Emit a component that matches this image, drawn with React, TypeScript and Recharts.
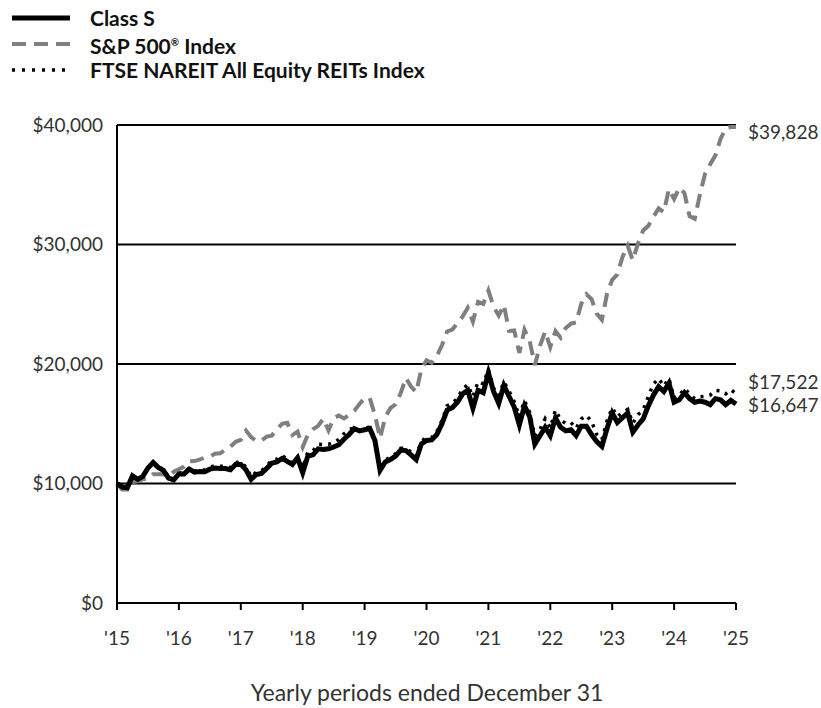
import React from "react";
import {
  CartesianGrid,
  Line,
  LineChart,
  XAxis,
  YAxis
} from "recharts";

// month-end values, Dec '15 .. Dec '25
const classS = [
  10000,
  9700, 9650, 10650, 10350, 10600, 11300, 11750, 11350, 11100, 10450, 10300, 10800,
  10800, 11200, 10950, 11000, 10980, 11200, 11300, 11250, 11250, 11150, 11600, 11600,
  11150, 10350, 10750, 10850, 11250, 11700, 11800, 12100, 11850, 11600, 12150, 10900,
  12300, 12400, 12900, 12850, 12900, 13050, 13250, 13700, 14100, 14600, 14400, 14500,
  14600, 13600, 11100, 11800, 12000, 12300, 12800, 12750, 12400, 12000, 13300, 13600,
  13650, 14100, 15000, 16150, 16350, 16800, 17500, 17800, 16300, 17800, 17600, 19250,
  17700, 16700, 18200, 17300, 16400, 14900, 16500, 15600, 13300, 14000, 14700, 14000,
  15500, 14700, 14400, 14500, 14000, 14800, 14800, 14100, 13500, 13100, 14600, 15900,
  15100, 15500, 15900, 14300, 14900, 15400, 16500, 17400, 18100, 17700, 18400, 16800,
  17000, 17600, 17100, 16800, 16900, 16800, 16600, 17100, 17000, 16600, 16950, 16647
];

const sp500 = [
  10000,
  9504, 9492, 10135, 10175, 10358, 10385, 10768, 10783, 10785, 10589, 10981, 11198,
  11411, 11864, 11878, 12000, 12169, 12245, 12497, 12536, 12794, 13092, 13494, 13644,
  14426, 13894, 13541, 13592, 13920, 14006, 14527, 15001, 15087, 14055, 14342, 13047,
  14092, 14544, 14826, 15426, 14447, 15465, 15688, 15440, 15729, 16070, 16653, 17156,
  17149, 15738, 13794, 15563, 16304, 16628, 17566, 18829, 18113, 17632, 19563, 20314,
  20109, 20664, 21569, 22721, 22880, 23413, 23970, 24699, 23550, 25201, 25027, 26148,
  24796, 24055, 24947, 22772, 22813, 20931, 22861, 21928, 19908, 21521, 22724, 21415,
  22760, 22205, 23020, 23379, 23480, 25032, 25836, 25425, 24212, 23704, 25868, 27042,
  27496, 28964, 29897, 28677, 30099, 31180, 31560, 32327, 33019, 32718, 34639, 33815,
  34755, 34303, 32372, 32152, 34174, 35913, 36718, 37463, 38830, 39739, 39838, 39828
];

const reit = [
  10000,
  9660, 9621, 10603, 10348, 10586, 11317, 11803, 11378, 11173, 10536, 10357, 10854,
  10880, 11300, 11030, 11130, 11120, 11360, 11490, 11450, 11440, 11340, 11750, 11795,
  11370, 10563, 10964, 11063, 11461, 11942, 12038, 12351, 12030, 11681, 12207, 11318,
  12631, 12745, 13280, 13267, 13280, 13466, 13681, 14160, 14514, 14659, 14439, 14575,
  14750, 13703, 11017, 11976, 12191, 12484, 12946, 12959, 12622, 12281, 13546, 13829,
  13844, 14328, 15274, 16496, 16694, 17145, 17917, 18257, 17271, 18532, 18347, 19540,
  17977, 17366, 18512, 17735, 16848, 15601, 16943, 15960, 13949, 14521, 15421, 14666,
  16147, 15323, 15017, 15092, 14609, 15397, 15705, 15187, 14109, 13658, 15242, 16324,
  15596, 15908, 16194, 15044, 15766, 16129, 17290, 18327, 18785, 18146, 18781, 17128,
  17334, 17958, 17491, 17089, 17260, 17300, 17400, 17800, 17750, 17500, 17850, 17522
];

const yearLabels = ["'15", "'16", "'17", "'18", "'19", "'20", "'21", "'22", "'23", "'24", "'25"];
const yTicks = [0, 10000, 20000, 30000, 40000];

const data = classS.map((v, i) => ({
  m: i,
  classS: v,
  sp500: sp500[i],
  reit: reit[i]
}));

const font = "Lato, 'Open Sans', sans-serif";
const last = classS.length - 1;

const money = (v: number) => "$" + v.toLocaleString("en-US");

const endLabel = (dy: number) => (props: any) => {
  if (props.index !== last) return null;
  return (
    <text
      x={props.x + 12}
      y={props.y + dy}
      dominantBaseline="central"
      fontSize={19}
      fontFamily={font}
      fill="#333"
    >
      {money(props.value)}
    </text>
  );
};

const legendRows = [
  { name: "Class S", stroke: "#000", dash: undefined, width: 5 },
  { name: "S&P 500", stroke: "#7f7f7f", dash: "14 8", width: 4 },
  { name: "FTSE NAREIT All Equity REITs Index", stroke: "#000", dash: "3 7", width: 3.5 }
];

const App = () => {
  return (
    <div style={{ position: "absolute", left: 0, top: 0, width: 821, height: 708, background: "#fff", overflow: "hidden" }}>
      <div style={{ position: "absolute", left: 0, top: 5, fontFamily: font, fontWeight: 700, fontSize: 21 }}>
        {legendRows.map((r, k) => (
          <div key={r.name} style={{ display: "flex", alignItems: "center", height: 26 }}>
            <svg width={90} height={26}>
              <line x1={12} x2={70} y1={13} y2={13} stroke={r.stroke} strokeWidth={r.width} strokeDasharray={r.dash} />
            </svg>
            <span style={{ color: "#111", lineHeight: "26px" }}>
              {r.name}
              {k === 1 && (
                <>
                  <sup style={{ fontSize: 10 }}>®</sup> Index
                </>
              )}
            </span>
          </div>
        ))}
      </div>
      <LineChart
        width={821}
        height={708}
        data={data}
        margin={{ top: 125, right: 85, bottom: 69, left: 7 }}
      >
        <CartesianGrid horizontal vertical={false} stroke="#000" strokeWidth={2} />
        <XAxis
          dataKey="m"
          type="number"
          domain={[0, 120]}
          ticks={yearLabels.map((_, i) => i * 12)}
          tickFormatter={(v: number) => yearLabels[v / 12]}
          height={36}
          axisLine={{ stroke: "#000", strokeWidth: 2 }}
          tickLine={{ stroke: "#000", strokeWidth: 2 }}
          tickSize={7}
          tickMargin={14}
          interval={0}
          tick={{ fill: "#333", fontSize: 19, fontFamily: font, dy: 8 }}
        />
        <YAxis
          width={110}
          domain={[0, 40000]}
          ticks={yTicks}
          tickFormatter={money}
          axisLine={{ stroke: "#000", strokeWidth: 2 }}
          tickLine={false}
          tickMargin={8}
          interval={0}
          tick={{ fill: "#333", fontSize: 19, fontFamily: font }}
        />
        <Line
          dataKey="sp500"
          stroke="#7f7f7f"
          strokeWidth={4}
          strokeDasharray="14 8"
          dot={false}
          isAnimationActive={false}
          label={endLabel(4)}
        />
        <Line
          dataKey="classS"
          stroke="#000"
          strokeWidth={5}
          dot={false}
          isAnimationActive={false}
          label={endLabel(0)}
        />
        <Line
          dataKey="reit"
          stroke="#000"
          strokeWidth={3.5}
          strokeDasharray="3 6"
          dot={false}
          isAnimationActive={false}
          label={endLabel(-12)}
        />
      </LineChart>
      <div
        style={{
          position: "absolute",
          left: 0,
          width: 854,
          top: 679,
          lineHeight: "26px",
          textAlign: "center",
          fontFamily: font,
          fontSize: 23,
          color: "#333"
        }}
      >
        Yearly periods ended December 31
      </div>
    </div>
  );
};

export default App;
